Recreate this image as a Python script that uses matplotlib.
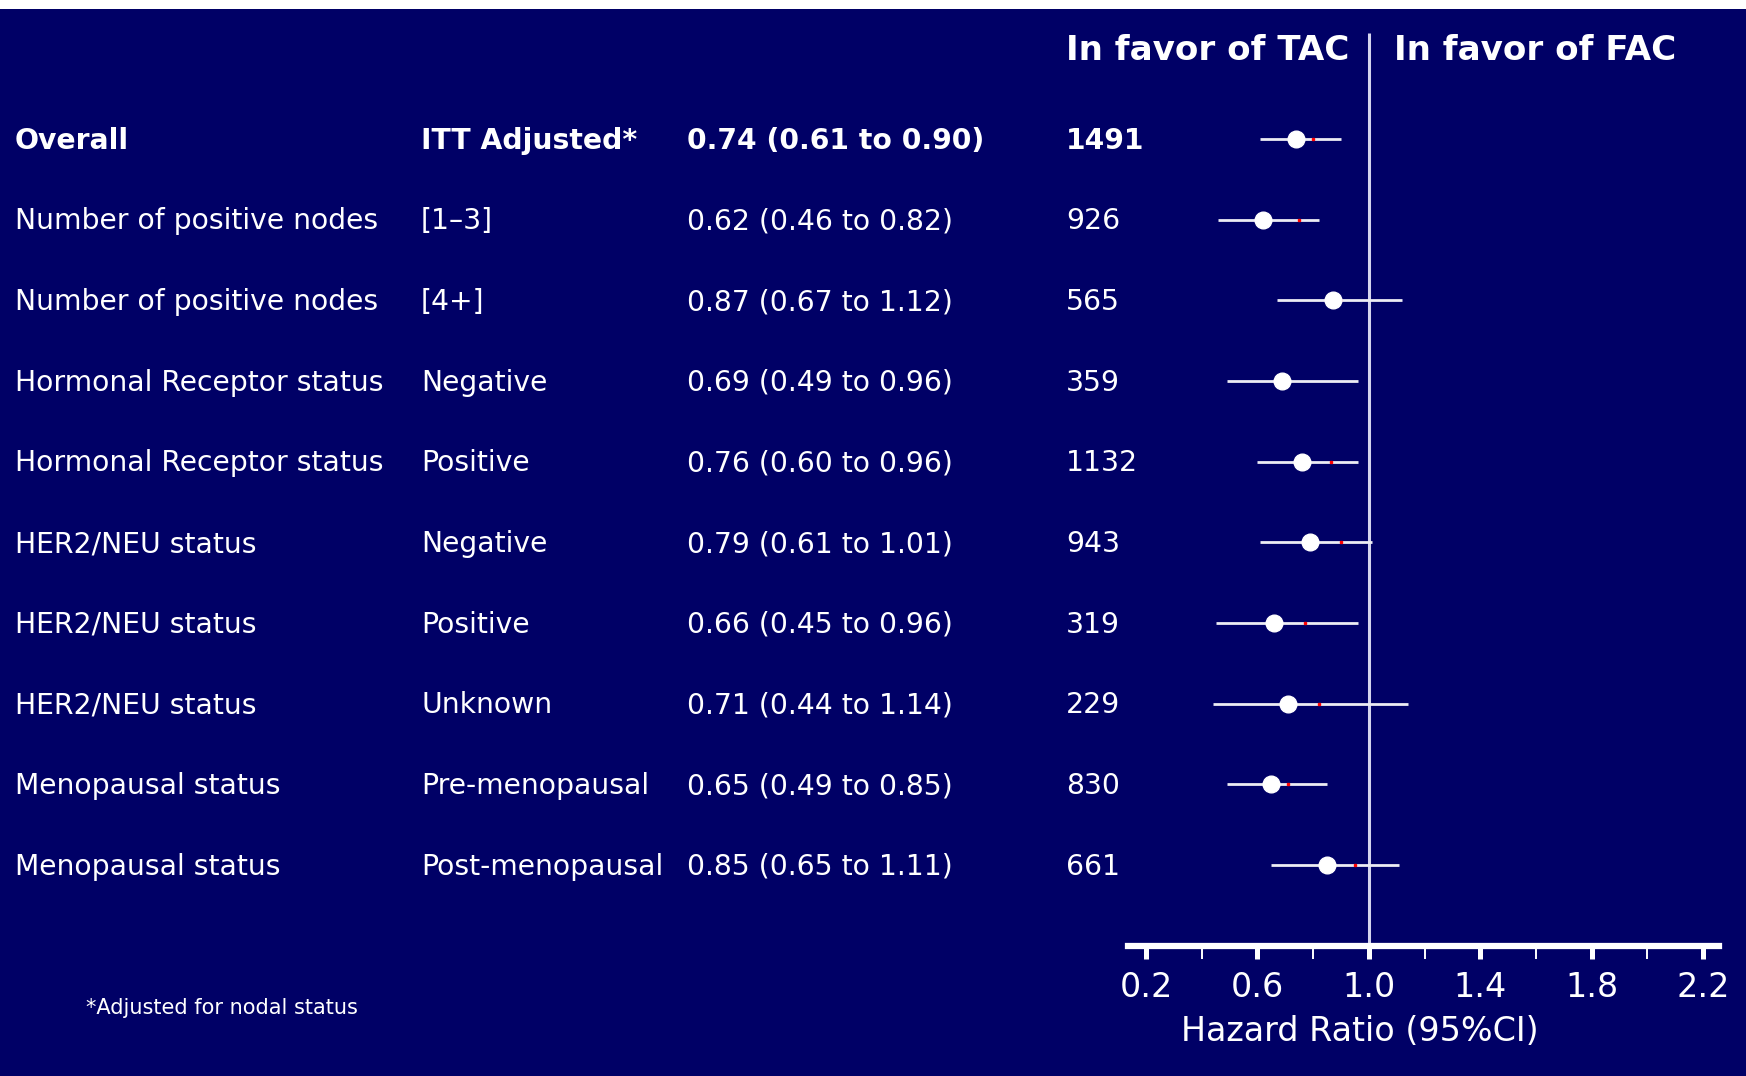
import numpy as np
import matplotlib
matplotlib.use("Agg")
import matplotlib.pyplot as plt
from matplotlib.patches import Rectangle
from matplotlib.transforms import blended_transform_factory

# ---------------------------------------
# Data
# ---------------------------------------

subgroups = [
    "Overall",
    "Number of positive nodes",
    "Number of positive nodes",
    "Hormonal Receptor status",
    "Hormonal Receptor status",
    "HER2/NEU status",
    "HER2/NEU status",
    "HER2/NEU status",
    "Menopausal status",
    "Menopausal status",
]

categories = [
    "ITT Adjusted*",
    "[1\u20133]",
    "[4+]",
    "Negative",
    "Positive",
    "Negative",
    "Positive",
    "Unknown",
    "Pre-menopausal",
    "Post-menopausal",
]

hr = [0.74, 0.62, 0.87, 0.69, 0.76, 0.79, 0.66, 0.71, 0.65, 0.85]
ci_low = [0.61, 0.46, 0.67, 0.49, 0.60, 0.61, 0.45, 0.44, 0.49, 0.65]
ci_high = [0.90, 0.82, 1.12, 0.96, 0.96, 1.01, 0.96, 1.14, 0.85, 1.11]
n_patients = [1491, 926, 565, 359, 1132, 943, 319, 229, 830, 661]

# small red marks seen on each CI line
red_marks = [0.80, 0.75, 0.895, np.nan, 0.865, 0.90, 0.77, 0.82, 0.71, 0.95]

major_ticks = [0.2, 0.6, 1.0, 1.4, 1.8, 2.2]
tick_labels = ["0.2", "0.6", "1.0", "1.4", "1.8", "2.2"]
minor_ticks = [0.4, 0.8, 1.2, 1.6, 2.0]

# ---------------------------------------
# Figure setup
# ---------------------------------------

W, H = 1746, 1076
navy = "#000066"

fig = plt.figure(figsize=(W / 100, H / 100), dpi=100, facecolor=navy)
ax = fig.add_axes([0, 0, 1, 1])
ax.set_facecolor(navy)

# pixel layout of the forest axis
x0_px, px_per_unit = 1146, 278.5
row_top, row_step = 139.2, 80.65

ax.set_xlim(0.2 - x0_px / px_per_unit, 0.2 + (W - x0_px) / px_per_unit)
ax.set_ylim((H - row_top) / row_step, -row_top / row_step)

rows = np.arange(len(hr))
axis_row = len(hr)

# white strip on top
fig.patches.append(Rectangle((0, 1 - 9 / H), 1, 9 / H,
                             transform=fig.transFigure,
                             facecolor="white", edgecolor="none"))

# ---------------------------------------
# Table columns
# ---------------------------------------

trans = blended_transform_factory(ax.transAxes, ax.transData)
col_x = [15 / W, 421 / W, 687 / W, 1066 / W]

for i in rows:
    weight = "bold" if i == 0 else "normal"
    cells = [
        subgroups[i],
        categories[i],
        f"{hr[i]:.2f} ({ci_low[i]:.2f} to {ci_high[i]:.2f})",
        str(n_patients[i]),
    ]
    for x, txt in zip(col_x, cells):
        ax.text(x, i + 0.02, txt, transform=trans, color="white",
                fontsize=20.3, fontweight=weight, ha="left", va="center")

# headers
ax.text(1066 / W, -1.1, "In favor of TAC", transform=trans, color="white",
        fontsize=24.6, fontweight="bold", ha="left", va="center")
ax.text(1394 / W, -1.1, "In favor of FAC", transform=trans, color="white",
        fontsize=24.6, fontweight="bold", ha="left", va="center")

# footnote
ax.text(86 / W, 10.77, "*Adjusted for nodal status", transform=trans,
        color="white", fontsize=15, ha="left", va="center")

# ---------------------------------------
# Forest plot
# ---------------------------------------

ax.vlines(1.0, -1.32, axis_row, color="#d4d4ee", linewidth=2.2, zorder=1)

ax.hlines(rows, ci_low, ci_high, color="#ececf4", linewidth=2.0, zorder=2)
ax.plot(red_marks, rows, "s", color="red", markersize=2, zorder=3)
ax.plot(hr, rows, "o", color="white", markersize=12, zorder=4)

# ---------------------------------------
# X axis
# ---------------------------------------

for side in ["top", "left", "right"]:
    ax.spines[side].set_visible(False)

ax.spines["bottom"].set_position(("data", axis_row))
ax.spines["bottom"].set_bounds(0.135, 2.259)
ax.spines["bottom"].set_color("white")
ax.spines["bottom"].set_linewidth(4.5)

ax.set_xticks(major_ticks)
ax.set_xticklabels(tick_labels)
ax.set_xticks(minor_ticks, minor=True)
ax.set_yticks([])

ax.tick_params(axis="x", which="major", direction="out", length=9,
               width=3.6, color="white", labelcolor="white",
               labelsize=24, pad=9)
ax.tick_params(axis="x", which="minor", direction="out", length=9,
               width=1.4, color="white")

ax.text(0.967, 11.06, "Hazard Ratio (95%CI)", color="white",
        fontsize=24, ha="center", va="center")

plt.savefig("out.png", dpi=100, facecolor=navy)
